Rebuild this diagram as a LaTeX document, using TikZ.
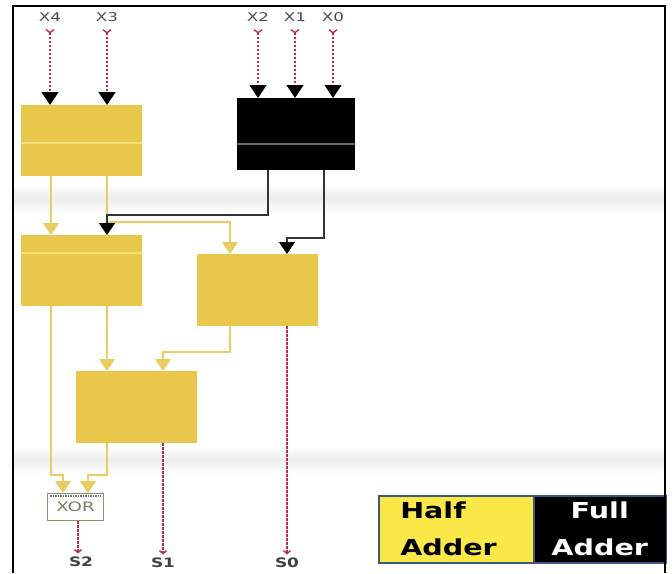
\documentclass[tikz,border=0pt]{standalone}
\usepackage{fontspec}
\setmainfont{DejaVu Sans}[FakeStretch=1.4]
\newfontfamily\legendfont{DejaVu Sans}[FakeStretch=1.3]
\usetikzlibrary{arrows.meta,calc}

\definecolor{blockyellow}{RGB}{232,199,74}
\definecolor{stripeyellow}{RGB}{246,222,125}
\definecolor{legendyellow}{RGB}{250,232,72}
\definecolor{legendblue}{RGB}{58,88,130}
\definecolor{wirered}{RGB}{190,45,65}
\definecolor{wireyellow}{RGB}{232,204,100}
\definecolor{xorgreen}{RGB}{130,150,115}

\tikzset{
  halfadd/.style={anchor=north west, fill=blockyellow, minimum width=121pt, minimum height=71pt, inner sep=0pt},
  fulladd/.style={halfadd, fill=black, minimum width=118pt, minimum height=72pt},
  xorbox/.style={anchor=north west, draw=xorgreen, line width=1pt, fill=white, minimum width=56pt, minimum height=27pt, inner sep=0pt, text=xorgreen!85!black, font=\fontsize{13}{15}\selectfont},
  hwire/.style={wireyellow, line width=1.2pt, -{Triangle[width=16pt,length=12pt]}},
  fwire/.style={black!80, line width=1.5pt, -{Triangle[color=black,fill=black,width=16pt,length=12pt]}},
  sigwire/.style={wirered, line width=1.4pt, dash pattern=on 2.5pt off 1.5pt},
  inlabel/.style={font=\fontsize{12}{14}\selectfont, text=black!70},
  outlabel/.style={font={\legendfont\bfseries\fontsize{13}{15}\selectfont}, text=black!75},
  legendbox/.style={anchor=north west, draw=legendblue, line width=1.5pt, minimum height=67pt, inner sep=0pt, font={\legendfont\bfseries\fontsize{22}{37}\selectfont}},
}

\begin{document}
\begin{tikzpicture}[x=1pt,y=-1pt]
  \useasboundingbox (0,0) rectangle (672,573);
  % faint bands
  \shade[top color=white, bottom color=white, middle color=black!7] (14,183) rectangle (664,214);
  \shade[top color=white, bottom color=white, middle color=black!7] (14,446) rectangle (664,474);

  % adders
  \node[halfadd] (ha1) at (21,105) {};
  \node[fulladd] (fa) at (237,98) {};
  \node[halfadd] (ha2) at (21,235) {};
  \node[halfadd, minimum height=72pt] (ha3) at (197,254) {};
  \node[halfadd, minimum height=72pt] (ha4) at (76,371) {};
  \node[xorbox] (xor) at (47,493) {XOR};
  \draw[black!55, line width=1.5pt, dash pattern=on 1.5pt off 1pt] ($(xor.north west)+(3,3)$) -- ($(xor.north east)+(-3,3)$);
  \coordinate (xorout) at ($(xor.south west)+(31,0)$);

  \foreach \b/\d/\c in {ha1/38/stripeyellow, ha2/18/stripeyellow, fa/46/black!60}
    \draw[\c, line width=1.5pt] ($(\b.north west)+(0,\d)$) -- ($(\b.north east)+(0,\d)$);

  % inputs
  \foreach \nm/\txt/\xx/\blk in {x4/X4/50/ha1, x3/X3/107/ha1, x2/X2/258/fa, x1/X1/295/fa, x0/X0/333/fa} {
    \node[inlabel] (\nm) at (\xx,17) {\txt};
    \draw[sigwire, {Straight Barb[reversed,length=3pt,width=8pt]}-{Triangle[color=black,fill=black,width=17pt,length=13pt]}, shorten <=4pt]
      (\nm.south) -- (\nm.south |- \blk.north);
  }

  % outputs
  \node[outlabel] (s2) at (81,562) {S2};
  \node[outlabel] (s1) at (163,563) {S1};
  \node[outlabel] (s0) at (287,563) {S0};

  % links
  \draw[hwire] ($(ha1.south west)+(30,0)$) -- ($(ha2.north west)+(30,0)$);
  \draw[hwire] ($(ha1.south west)+(86,0)$) |- ($(ha3.north west)+(33,-32)$) -- ($(ha3.north west)+(33,0)$);
  \draw[fwire] ($(fa.south west)+(31,0)$) |- ($(ha2.north west)+(86,-20)$) -- ($(ha2.north west)+(86,0)$);
  \draw[fwire] ($(fa.south west)+(87,0)$) |- ($(ha3.north west)+(90,-16)$) -- ($(ha3.north west)+(90,0)$);
  \draw[hwire] ($(ha2.south west)+(86,0)$) -- ($(ha4.north west)+(31,0)$);
  \draw[hwire] ($(ha3.south west)+(33,0)$) |- ($(ha4.north west)+(87,-19)$) -- ($(ha4.north west)+(87,0)$);
  \draw[hwire] ($(ha2.south west)+(30,0)$) |- ($(xor.north west)+(16,-18)$) -- ($(xor.north west)+(16,0)$);
  \draw[hwire] ($(ha4.south west)+(31,0)$) |- ($(xor.north west)+(41,-18)$) -- ($(xor.north west)+(41,0)$);

  \draw[sigwire, -{Straight Barb[length=3pt,width=7pt]}] ($(ha3.south west)+(90,0)$) -- (s0.north);
  \draw[sigwire, -{Straight Barb[length=3pt,width=7pt]}] ($(ha4.south west)+(87,0)$) -- (s1.north);
  \draw[sigwire, -{Straight Barb[length=3pt,width=7pt]}] (xorout) -- (xorout |- s2.north);

  % legend
  \node[legendbox, fill=legendyellow, minimum width=155pt, text width=112pt, align=left] (half) at (378,495) {Half\\Adder};
  \node[legendbox, fill=black, text=white, minimum width=132pt, align=center] (full) at (533,495) {Full\\Adder};

  % frame
  \draw[line width=2.5pt] (13,573) -- (13,6) -- (665,6) -- (665,573);
\end{tikzpicture}
\end{document}
